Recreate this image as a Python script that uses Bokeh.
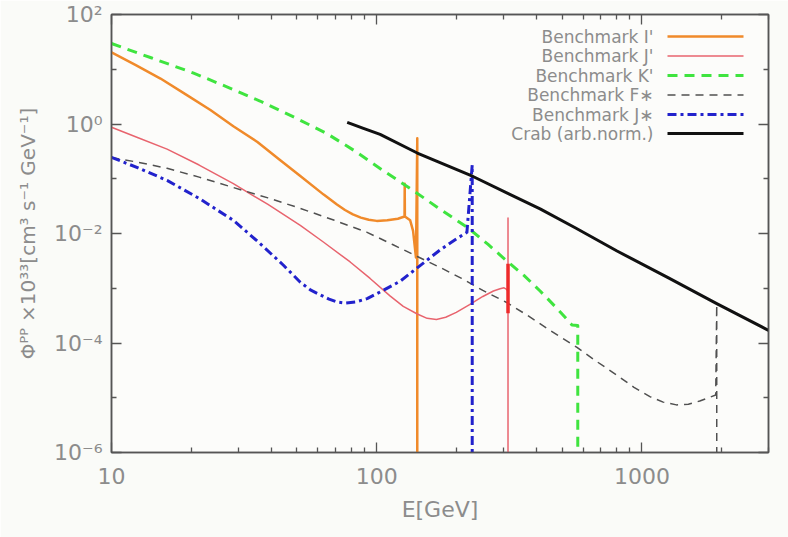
import math
from bokeh.plotting import figure
from bokeh.models import FixedTicker, CustomJSTickFormatter, LogAxis, Label, Arrow
from bokeh.embed import file_html
from bokeh.resources import INLINE

# ---------------- data ----------------
x_ticks = [10, 100, 1000]
x_tick_labels = ["10", "100", "1000"]
x_minor = [20, 30, 40, 50, 60, 70, 80, 90, 200, 300, 400, 500, 600, 700, 800, 900, 2000, 3000]
y_ticks = [1e-6, 1e-4, 1e-2, 1, 100]
y_tick_labels = ["10⁻⁶", "10⁻⁴", "10⁻²", "10⁰", "10²"]
y_minor = [1e-5, 1e-3, 1e-1, 10]

# Benchmark I'
i_E = [10, 12.3, 15.3, 19.05, 23.6, 28.8, 35.5, 42.7, 51.5, 63.1, 70.8, 75.9, 81.3, 87.1, 93.3,
       100, 109.6, 120.2, 127.3, 127.5, 127.7, 133.7, 137.1, 140.6, 142.2, 142.2]
i_F = [20.4, 12.0, 6.76, 3.47, 1.80, 0.912, 0.468, 0.229, 0.112, 0.0513, 0.0339, 0.0269, 0.0224, 0.0195, 0.0178,
       0.0170, 0.0174, 0.0186, 0.0204, 0.0813, 0.0204, 0.0174, 0.0112, 0.00363, 0.55, 1e-7]
# Benchmark J'
j_E = [10, 12.6, 16.2, 21.4, 28.8, 38.9, 51.5, 63.1, 79.4, 94.4, 112.2, 125.9, 142.2, 154.9, 167.9,
       182.0, 199.5, 223.9, 251.2, 275.4, 291.7, 302.0, 309.0, 312.6, 312.6, 312.6]
j_F = [0.871, 0.56, 0.347, 0.178, 0.0813, 0.0339, 0.0141, 0.00692, 0.00302, 0.00151, 7.24e-4, 4.68e-4, 3.39e-4, 2.82e-4, 2.69e-4,
       2.95e-4, 3.63e-4, 5.01e-4, 7.08e-4, 8.91e-4, 9.77e-4, 1.02e-3, 9.55e-4, 8.71e-4, 0.0191, 1e-7]
# Benchmark J' line feature (dense part)
jl_E = [312.6, 312.6]
jl_F = [0.0028, 0.00035]
# Benchmark K'
k_E = [10, 14.1, 20.4, 27.5, 36.3, 49.0, 64.6, 83.2, 105.7, 134.9, 169.0, 221.3, 263.0, 309.0, 359.7,
       413.0, 478.6, 544.5, 572.8, 572.8]
k_F = [29.5, 16.2, 8.51, 4.68, 2.63, 1.32, 0.676, 0.316, 0.141, 0.0646, 0.0302, 0.0126, 0.00631, 0.00316, 0.0017,
       8.91e-4, 4.27e-4, 2.14e-4, 2.09e-4, 1e-7]
# Benchmark F*
f_E = [10, 12.6, 16.2, 21.4, 28.8, 38.9, 51.5, 69.2, 92.0, 114.8, 142.2, 173.4, 208.9, 251.2, 309.0,
       371.5, 449.8, 568.9, 676.1, 805.4, 933.3, 1071.5, 1202.3, 1349, 1496, 1652, 1799, 1897, 1914, 1914]
f_F = [0.245, 0.2, 0.155, 0.107, 0.0692, 0.0447, 0.0288, 0.0174, 0.0105, 0.0063, 0.0038, 0.0024, 0.00151, 9.12e-4, 5.5e-4,
       3.16e-4, 1.70e-4, 8.32e-5, 4.57e-5, 2.57e-5, 1.55e-5, 1.05e-5, 8.32e-6, 7.41e-6, 7.59e-6, 8.71e-6, 1.02e-5, 1.12e-5, 5.01e-4, 1e-7]
# Benchmark J*
js_E = [10, 12.6, 16.2, 21.4, 28.8, 35.5, 44.5, 51.5, 56.2, 61.2, 66.1, 70.8, 75.9, 83.2, 92.0,
        105.7, 122.7, 144.5, 173.4, 199.5, 218.8, 229.1, 229.1]
js_F = [0.245, 0.158, 0.0933, 0.0437, 0.0174, 0.00724, 0.00263, 0.00129, 9.33e-4, 7.59e-4, 6.31e-4, 5.62e-4, 5.37e-4, 5.62e-4, 6.46e-4,
        9.12e-4, 0.00135, 0.00251, 0.00501, 0.00794, 0.0105, 0.178, 1e-7]
# Crab (arb. norm.)
c_E = [77.4, 89.1, 103.0, 142.2, 230.7, 316.2, 413.0, 562.3, 805.4, 1259, 1914, 3000]
c_F = [1.07, 0.832, 0.646, 0.295, 0.11, 0.0525, 0.0282, 0.0126, 0.00479, 0.00155, 5.25e-4, 1.70e-4]

series_names = ["Benchmark I'", "Benchmark J'", "Benchmark K'", "Benchmark F∗", "Benchmark J∗", "Crab (arb.norm.)"]

# ---------------- styles ----------------
styles = [
    dict(color="#f08a2a", width=2.5, dash="solid"),
    dict(color="#e8646e", width=1.5, dash="solid"),
    dict(color="#3fe43f", width=3, dash="10 7"),
    dict(color="#505050", width=1.5, dash="8 6"),
    dict(color="#2222cc", width=3, dash="9 4 3 4"),
    dict(color="#111111", width=3, dash="solid"),
]
data = [(i_E, i_F), (j_E, j_F), (k_E, k_F), (f_E, f_F), (js_E, js_F), (c_E, c_F)]

TXT = "#8c8c8c"
FONT = "DejaVu Sans"
X0, X1 = 10, 3000
Y0, Y1 = 1e-6, 100

p = figure(width=788, height=537, x_axis_type="log", y_axis_type="log",
           x_range=(X0, X1), y_range=(Y0, Y1),
           output_backend="svg", toolbar_location=None,
           min_border_left=111, min_border_right=20, min_border_top=14, min_border_bottom=85,
           background_fill_color="#fcfcfa", border_fill_color="#fafbf8",
           outline_line_color="#555555", outline_line_width=1.5)
p.xgrid.visible = False
p.ygrid.visible = False

def fmt(tvals, tlabels):
    return CustomJSTickFormatter(args=dict(tvals=tvals, tlabels=tlabels), code="""
        let best = 0, bd = Infinity;
        for (let i = 0; i < tvals.length; i++) {
            const d = Math.abs(Math.log10(tvals[i]) - Math.log10(tick));
            if (d < bd) { bd = d; best = i; }
        }
        return tlabels[best];
    """)

xt = FixedTicker(ticks=x_ticks, minor_ticks=x_minor)
yt = FixedTicker(ticks=y_ticks, minor_ticks=y_minor)

def style_axis(ax):
    ax.axis_line_color = "#555555"
    ax.axis_line_width = 1.5
    ax.major_tick_line_color = "#555555"
    ax.minor_tick_line_color = "#555555"
    ax.major_tick_line_width = 1.3
    ax.minor_tick_line_width = 1.3
    ax.major_tick_in = 10
    ax.major_tick_out = 0
    ax.minor_tick_in = 5
    ax.minor_tick_out = 0
    ax.major_label_text_font = FONT
    ax.major_label_text_color = TXT
    ax.major_label_text_font_size = "22px"
    ax.axis_label_text_font = FONT
    ax.axis_label_text_color = TXT
    ax.axis_label_text_font_style = "normal"

xa = p.xaxis[0]
xa.ticker = xt
xa.formatter = fmt(x_ticks, x_tick_labels)
style_axis(xa)
xa.major_label_standoff = 15
xa.axis_label = "E[GeV]"
xa.axis_label_text_font_size = "22px"
xa.axis_label_standoff = 10

ya = p.yaxis[0]
ya.ticker = yt
ya.formatter = fmt(y_ticks, y_tick_labels)
style_axis(ya)
ya.major_label_standoff = 9
ya.axis_label = "Φᴾᴾ ×10³³[cm³ s⁻¹ GeV⁻¹]"
ya.axis_label_text_font_size = "20px"
ya.axis_label_standoff = 11

blank = CustomJSTickFormatter(code="return '';")
top = LogAxis(ticker=xt, formatter=blank)
style_axis(top)
p.add_layout(top, "above")
right = LogAxis(ticker=yt, formatter=blank)
style_axis(right)
p.add_layout(right, "right")

for (E, F), st in zip(data, styles):
    p.line(E, F, line_color=st["color"], line_width=st["width"], line_dash=st["dash"],
           line_join="round")
p.line(jl_E, jl_F, line_color="#ee2a2a", line_width=3.5)

# ---------------- legend (right-aligned text, sample on the right) ----------------
FL, FR, FT, FB = 111, 768, 14, 452
def px_x(px):
    lx0, lx1 = math.log10(X0), math.log10(X1)
    return 10 ** (lx0 + (px - FL) / (FR - FL) * (lx1 - lx0))
def px_y(py):
    ly0, ly1 = math.log10(Y0), math.log10(Y1)
    return 10 ** (ly1 - (py - FT) / (FB - FT) * (ly1 - ly0))

row_y = [36, 55.5, 75, 94.5, 114, 133]
for name, st, ry in zip(series_names, styles, row_y):
    p.add_layout(Label(x=px_x(653), y=px_y(ry), text=name, text_align="right",
                       text_baseline="middle", text_font=FONT, text_font_size="17px",
                       text_color=TXT))
    p.add_layout(Arrow(end=None, x_start=px_x(667), y_start=px_y(ry),
                       x_end=px_x(743), y_end=px_y(ry),
                       line_color=st["color"], line_width=st["width"], line_dash=st["dash"]))

open("out.html", "w").write(file_html(p, INLINE))
